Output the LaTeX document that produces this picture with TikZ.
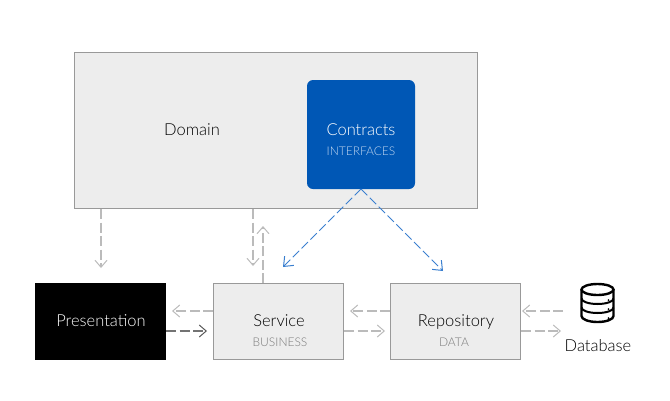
\documentclass[tikz,border=0pt]{standalone}
\usepackage{fontspec}
\setmainfont{Lato}[UprightFont=* Light]
\usetikzlibrary{arrows.meta,calc}
\definecolor{boxfill}{HTML}{EDEDED}
\definecolor{boxline}{HTML}{999999}
\definecolor{flowgray}{HTML}{BBBBBB}
\definecolor{flowblue}{HTML}{3A7FCF}
\definecolor{contractblue}{HTML}{0057B5}
\definecolor{subgray}{HTML}{7A7A7A}
\definecolor{subblue}{HTML}{C0D6F0}
\definecolor{textdark}{HTML}{000000}
\tikzset{
  x=1pt,y=-1pt,
  box/.style={draw=boxline,fill=boxfill,line width=1pt,inner sep=0pt,outer sep=0pt,anchor=north west,text=textdark},
  flow/.style={draw=flowgray,line width=2pt,dash pattern=on 10pt off 3.5pt,
    -{Straight Barb[length=7pt,width=12pt,line width=1pt,flowgray]}},
  flowdark/.style={flow,draw=black!55,-{Straight Barb[length=7pt,width=12pt,line width=1pt,black!65]}},
  flowb/.style={draw=flowblue,line width=1pt,dash pattern=on 9pt off 3.5pt,
    -{Straight Barb[length=8pt,width=13pt,line width=1pt,flowblue]}},
  lbl/.style={font=\fontsize{16.5}{18}\selectfont,inner sep=0pt,anchor=base},
  sublbl/.style={font=\fontsize{12}{14}\selectfont,inner sep=0pt,anchor=base},
  dbline/.style={draw=black,line width=2.4pt},
}
\begin{document}
\begin{tikzpicture}
\useasboundingbox (0,0) rectangle (670,400);
\node[box,minimum width=403pt,minimum height=156pt] (domain) at (74.5,52.5) {};
\node[lbl,text=textdark] (domainl) at (192,135) {Domain};
\node[fill=contractblue,rounded corners=6pt,anchor=north west,minimum width=108pt,minimum height=109pt,inner sep=0pt,outer sep=0pt] (contracts) at (307,80) {};
\node[lbl,text=white] (contractsl) at (361,135) {Contracts};
\node[sublbl,text=subblue] (contractss) at (361,155) {INTERFACES};
\node[fill=black,anchor=north west,minimum width=131pt,minimum height=77pt,inner sep=0pt,outer sep=0pt] (pres) at (35,283) {};
\node[lbl,text=white] (presl) at (101,326) {Presentation};
\node[box,minimum width=130pt,minimum height=76pt] (service) at (213.5,283.5) {};
\node[lbl,text=textdark] (servicel) at (279,326) {Service};
\node[sublbl,text=subgray] (services) at (280,346) {BUSINESS};
\node[box,minimum width=130pt,minimum height=76pt] (repo) at (390.5,283.5) {};
\node[lbl,text=textdark] (repol) at (456,326) {Repository};
\node[sublbl,text=subgray] (repos) at (454,346) {DATA};
\node[lbl,text=textdark] (dbl) at (598,351) {Database};
% database icon
\coordinate (dbc) at (597.5,303);
\begin{scope}[shift={(dbc)}]
\draw[dbline,fill=white] (-16,-13.5) -- (-16,13) arc[x radius=16,y radius=6,start angle=180,end angle=0] -- (16,-13.5);
\draw[dbline] (0,-13.5) ellipse[x radius=16,y radius=5.5];
\draw[dbline,line width=2pt] (-16,-4.5) arc[x radius=16,y radius=5.5,start angle=180,end angle=0];
\draw[dbline,line width=2pt] (-16,4.5) arc[x radius=16,y radius=5.5,start angle=180,end angle=0];
\fill (11,-3) circle (1); \fill (11,6) circle (1); \fill (11,15) circle (1);
\end{scope}
% connectors
\coordinate (a1s) at (101,209); \coordinate (a1e) at (101,268);
\coordinate (a2s) at (253,209); \coordinate (a2e) at (253,266);
\coordinate (a3s) at (263,283); \coordinate (a3e) at (263,226);
\draw[flow] (a1s) -- (a1e);
\draw[flow] (a2s) -- (a2e);
\draw[flow] (a3s) -- (a3e);
\coordinate (a4s) at (213,311); \coordinate (a4e) at (172,311);
\coordinate (a5s) at (166,331); \coordinate (a5e) at (207,331);
\coordinate (a6s) at (390,311); \coordinate (a6e) at (350,311);
\coordinate (a7s) at (344,331); \coordinate (a7e) at (385,331);
\coordinate (a8s) at (563,311); \coordinate (a8e) at (522,311);
\coordinate (a9s) at (521,331); \coordinate (a9e) at (561,331);
\draw[flow] (a4s) -- (a4e);
\draw[flowdark] (a5s) -- (a5e);
\draw[flow] (a6s) -- (a6e);
\draw[flow] (a7s) -- (a7e);
\draw[flow] (a8s) -- (a8e);
\draw[flow] (a9s) -- (a9e);
\coordinate (b1e) at (283,267); \coordinate (b2e) at (443,271);
\draw[flowb] (contracts.south) -- (b1e);
\draw[flowb] (contracts.south) -- (b2e);
\end{tikzpicture}
\end{document}
